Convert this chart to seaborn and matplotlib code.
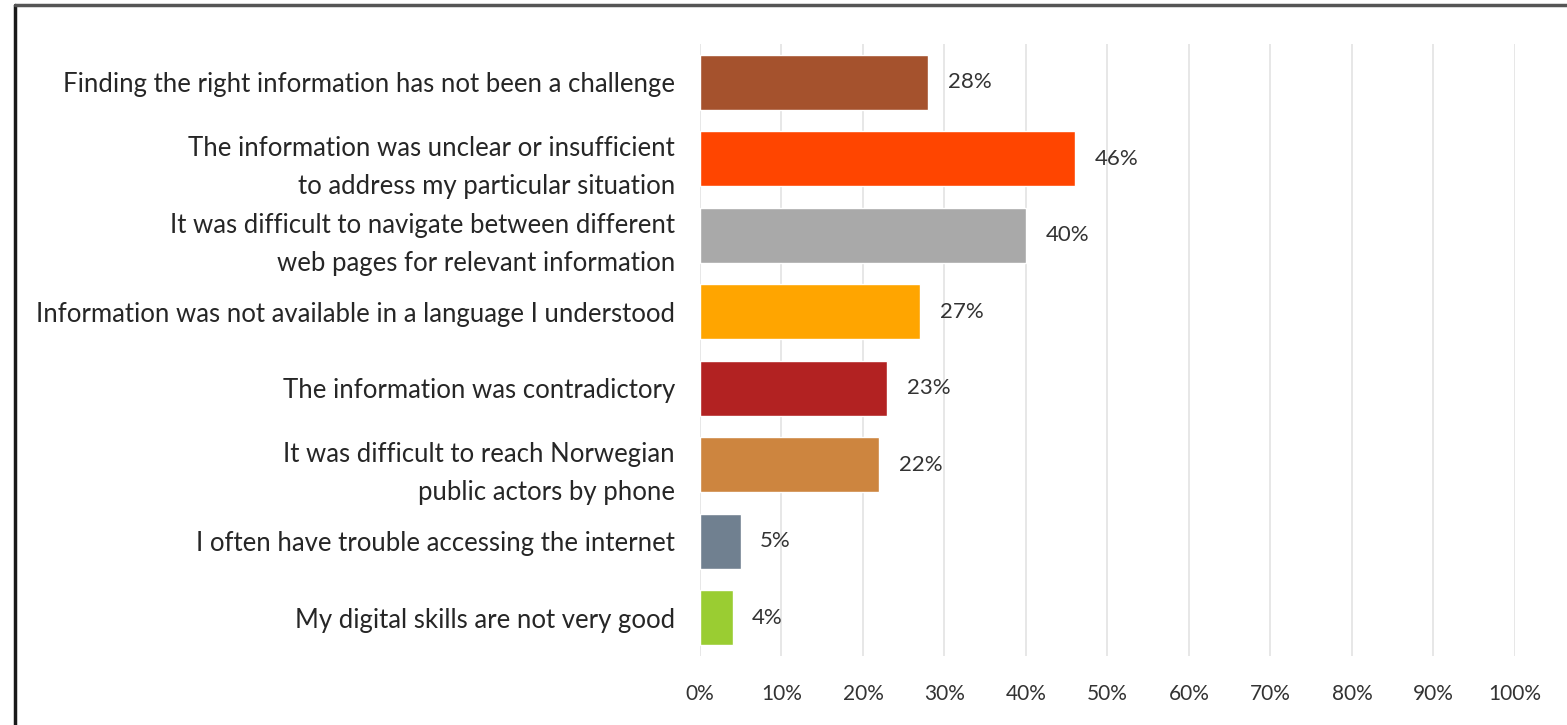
import matplotlib
matplotlib.use('Agg')
import matplotlib.pyplot as plt
import seaborn as sns
import pandas as pd
from matplotlib.lines import Line2D

categories = [
    'Finding the right information has not been a challenge',
    'The information was unclear or insufficient\nto address my particular situation',
    'It was difficult to navigate between different\nweb pages for relevant information',
    'Information was not available in a language I understood',
    'The information was contradictory',
    'It was difficult to reach Norwegian\npublic actors by phone',
    'I often have trouble accessing the internet',
    'My digital skills are not very good',
]
shares = [28, 46, 40, 27, 23, 22, 5, 4]
colors = ['#A5522D', '#FF4500', '#A9A9A9', '#FFA500', '#B22222', '#CD853F', '#708090', '#9ACD32']
xticks = [0, 10, 20, 30, 40, 50, 60, 70, 80, 90, 100]

df = pd.DataFrame({'category': categories, 'share': shares})

sns.set_style('white')
plt.rcParams['font.family'] = ['Lato', 'DejaVu Sans']

fig = plt.figure(figsize=(15.67, 7.25), dpi=100)
ax = fig.add_axes([0.4467, 0.095, 0.5201, 0.844])

sns.barplot(data=df, x='share', y='category', hue='category', palette=colors,
            legend=False, width=0.72, ax=ax, zorder=3, saturation=1)

ax.set_xlim(0, 100)
ax.set_xticks(xticks)
ax.set_xticklabels([f'{t}%' for t in xticks], fontsize=15, color='#333333')
ax.set_yticks(range(len(categories)))
ax.set_yticklabels(categories, fontsize=18.5, color='#262626', linespacing=1.65)
ax.tick_params(axis='y', length=0, pad=18)
ax.tick_params(axis='x', length=0, pad=20)
ax.set_xlabel('')
ax.set_ylabel('')
ax.grid(axis='x', color='#E3E3E3', linewidth=1.2, zorder=0)
for s in ax.spines.values():
    s.set_visible(False)

for i, v in enumerate(shares):
    ax.text(v + 2.4, i, f'{v}%', va='center', ha='left', fontsize=16, color='#333333')

# outer frame
fig.add_artist(Line2D([0.0096, 0.0096], [0.0, 0.993], transform=fig.transFigure, color='#1a1a1a', linewidth=2.5))
fig.add_artist(Line2D([0.0096, 1.0], [0.993, 0.993], transform=fig.transFigure, color='#555555', linewidth=2.5))

fig.savefig('out.png', dpi=100)
